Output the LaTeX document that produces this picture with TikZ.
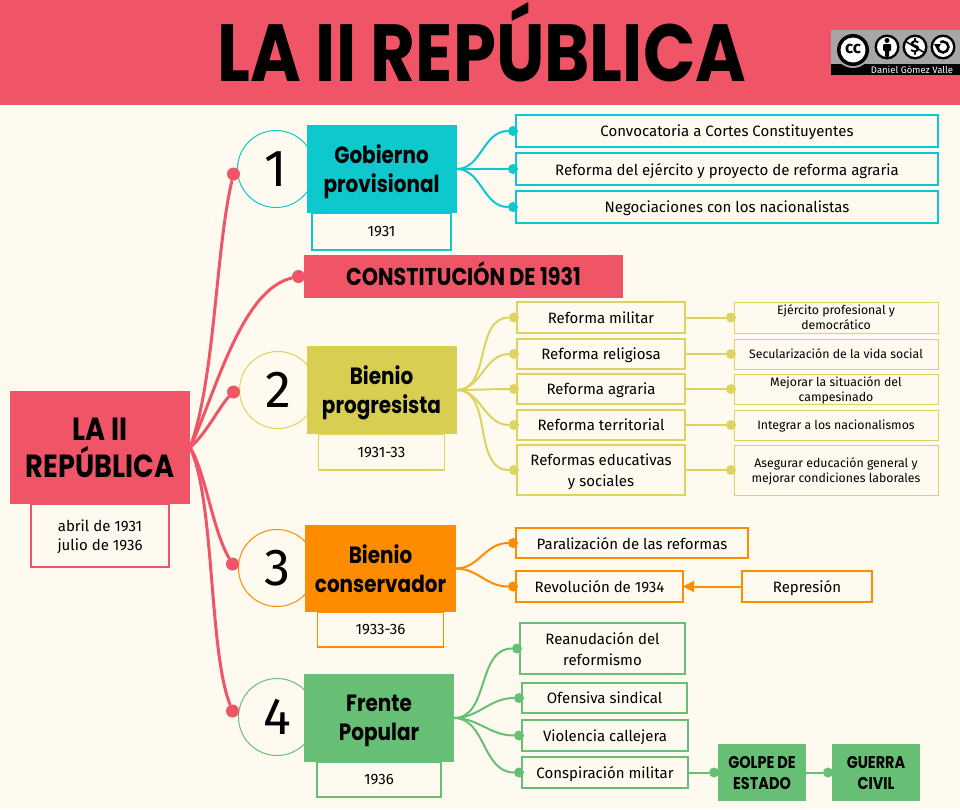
\documentclass[tikz,border=0pt]{standalone}
\usepackage{fontspec}
\setmainfont{Fira Sans}
\newfontfamily\headfont{Poppins}[FakeStretch=0.85]
\usepackage{tikz}
\usetikzlibrary{positioning, arrows.meta}
\definecolor{paper}{HTML}{FEFAF0}
\definecolor{rojo}{HTML}{EF5566}
\definecolor{turq}{HTML}{0DC8CC}
\definecolor{amar}{HTML}{D8CE52}
\definecolor{amarb}{HTML}{DDD35E}
\definecolor{nara}{HTML}{FF8C00}
\definecolor{verde}{HTML}{66BF75}
\newcommand{\fs}[2]{\fontsize{#1}{#2}\selectfont}

\begin{document}
\begin{tikzpicture}[
  x=1pt, y=-1pt,
  head/.style={fill=#1, outer sep=0pt, inner sep=0pt, minimum width=150pt, minimum height=88pt, text depth=0pt, align=center, font=\headfont\bfseries\fs{23.5}{29}, text=black},
  year/.style={draw=#1, line width=1.1pt, fill=paper, outer sep=0pt, inner sep=0pt, minimum height=36pt, text depth=0pt, align=center, font=\fs{15}{19}},
  ring/.style={draw=#1, line width=1pt, circle, minimum size=77pt, inner sep=0pt, font=\fs{52}{52}},
  item/.style={draw=#1, line width=2pt, fill=paper, outer sep=0pt, inner sep=0pt, minimum height=30pt, text depth=0pt, align=center, font=\fs{15}{21}},
  sub/.style={draw=#1, line width=1pt, fill=paper, outer sep=0pt, inner sep=0pt, minimum width=204pt, text depth=0pt, align=center, font=\fs{12.3}{15}},
  dot/.style={circle, fill=#1, inner sep=0pt, minimum size=10pt, outer sep=0pt},
  bigdot/.style={circle, fill=rojo, inner sep=0pt, minimum size=13pt, outer sep=0pt},
  link/.style={draw=#1, line width=2pt},
  trunk/.style={draw=rojo, line width=3pt}
]
\useasboundingbox (0,0) rectangle (960,809);
\fill[paper] (0,0) rectangle (960,809);
\fill[rojo] (0,0) rectangle (960,105);
\node[font=\headfont\bfseries\fs{81}{81}, inner sep=0pt] (titulo) at (482,42) {LA II REPÚBLICA};

% Logo
\fill[black!35!white] (831,30) rectangle (960,75);
\fill[black] (831,64) rectangle (960,75);
\fill[black!35!white] (853,50) circle (18);
\fill[black] (853,50) circle (16);
\fill[white] (853,50) circle (12.5);
\node[font=\bfseries\fs{17}{17}, inner sep=0pt] (cc) at (853,49) {cc};
\foreach \x in {887,915,943} {
  \fill[black] (\x,47) circle (12.5);
  \fill[white] (\x,47) circle (10);
}
\fill[black] (887,40.5) circle (2.5);
\fill[black, rounded corners=1pt] (883,44) rectangle (891,51) (885,50) rectangle (889,57);
\node[font=\bfseries\fs{17}{17}, inner sep=0pt] (dolar) at (915,47) {\$};
\draw[black, line width=1.5pt] (905,41) -- (925,53);
\draw[black, line width=2.5pt] (937.5,47) arc[start angle=180, end angle=-120, radius=5.5];
\fill[black] (934,44) -- (941,44) -- (937.5,50) -- cycle;
\node[text=white, font=\fs{9.5}{10}, inner sep=0pt] (firma) at (912,69.5) {Daniel Gómez Valle};

% Centro
\node[head=rojo, minimum width=180pt, minimum height=113pt, font=\headfont\bfseries\fs{32}{37}] (rep) at (100,447.5) {LA II\\REPÚBLICA};
\node[year=rojo, minimum width=138pt, minimum height=63pt, below=0pt of rep] (repy) {abril de 1931\\julio de 1936};

% 1
\node[ring=turq] (c1) at (276,169) {1};
\node[head=turq] (h1) at (381.5,169) {Gobierno\\provisional};
\node[year=turq, minimum width=139pt, minimum height=37pt, below=0pt of h1] (y1) {1931};
\node[item=turq, minimum width=422pt, minimum height=32pt] (a1) at (727,131) {Convocatoria a Cortes Constituyentes};
\node[item=turq, minimum width=422pt, minimum height=32pt, below=6pt of a1] (a2) {Reforma del ejército y proyecto de reforma agraria};
\node[item=turq, minimum width=422pt, minimum height=32pt, below=6pt of a2] (a3) {Negociaciones con los nacionalistas};
\foreach \i in {a1,a2,a3} {
  \node[dot=turq, left=-2pt of \i] (d\i) {};
  \draw[link=turq] (h1.east) to[out=0, in=180] (d\i);
}

% Constitucion
\node[head=rojo, minimum width=319pt, minimum height=43pt, text height=17pt, font=\headfont\bfseries\fs{24.3}{26}] (con) at (463.5,276.5) {CONSTITUCIÓN DE 1931};

% 2
\node[ring=amarb] (c2) at (278,390) {2};
\node[head=amar] (h2) at (381.5,390) {Bienio\\progresista};
\node[year=amarb, minimum width=126pt, below=0pt of h2] (y2) {1931-33};
\node[item=amarb, minimum width=168pt, minimum height=31pt] (b1) at (601,317.5) {Reforma militar};
\node[item=amarb, minimum width=168pt, below=6pt of b1] (b2) {Reforma religiosa};
\node[item=amarb, minimum width=168pt, below=5pt of b2] (b3) {Reforma agraria};
\node[item=amarb, minimum width=168pt, below=6pt of b3] (b4) {Reforma territorial};
\node[item=amarb, minimum width=168pt, minimum height=50pt, below=5pt of b4] (b5) {Reformas educativas\\y sociales};
\node[sub=amarb, minimum height=31pt, right=49pt of b1] (s1) {Ejército profesional y\\democrático};
\node[sub=amarb, minimum height=30pt, right=49pt of b2] (s2) {Secularización de la vida social};
\node[sub=amarb, minimum height=30pt, right=49pt of b3] (s3) {Mejorar la situación del\\campesinado};
\node[sub=amarb, minimum height=30pt, right=49pt of b4] (s4) {Integrar a los nacionalismos};
\node[sub=amarb, minimum height=50pt, right=49pt of b5] (s5) {Asegurar educación general y\\mejorar condiciones laborales};
\foreach \i/\j in {b1/s1,b2/s2,b3/s3,b4/s4,b5/s5} {
  \node[dot=amarb, left=-2pt of \i] (d\i) {};
  \node[dot=amarb, left=-2pt of \j] (d\j) {};
  \draw[link=amarb] (h2.east) to[out=0, in=180] (d\i);
  \draw[link=amarb] (\i) -- (d\j);
}

% 3
\node[ring=nara] (c3) at (277,568) {3};
\node[head=nara, minimum width=151pt, minimum height=87pt] (h3) at (380.5,568.5) {Bienio\\conservador};
\node[year=nara, minimum width=126pt, minimum height=35pt, below=0pt of h3] (y3) {1933-36};
\node[item=nara, minimum width=232pt] (e1) at (632,543) {Paralización de las reformas};
\node[item=nara, minimum width=167pt, minimum height=31pt] (e2) at (599.5,586.5) {Revolución de 1934};
\node[item=nara, minimum width=130pt, minimum height=31pt, right=59pt of e2] (rep2) {Represión};
\foreach \i in {e1,e2} {
  \node[dot=nara, left=-2pt of \i] (d\i) {};
  \draw[link=nara] (h3.east) to[out=0, in=180] (d\i);
}
\draw[link=nara, -{Triangle[length=11pt, width=11pt]}] (rep2) -- (e2);

% 4
\node[ring=verde] (c4) at (277,717) {4};
\node[head=verde] (h4) at (379,718) {Frente\\Popular};
\node[year=verde, minimum width=124pt, minimum height=35pt, below=0pt of h4] (y4) {1936};
\node[item=verde, minimum width=165pt, minimum height=51pt] (f1) at (602.5,648.5) {Reanudación del\\reformismo};
\node[item=verde, minimum width=165pt] (f2) at (604.5,698) {Ofensiva sindical};
\node[item=verde, minimum width=166pt, minimum height=31pt] (f3) at (605,735.5) {Violencia callejera};
\node[item=verde, minimum width=166pt, minimum height=31pt] (f4) at (605,772.5) {Conspiración militar};
\node[head=verde, minimum width=88pt, minimum height=57pt, font=\headfont\bfseries\fs{17}{21}] (golpe) at (762,772.5) {GOLPE DE\\ESTADO};
\node[head=verde, minimum width=88pt, minimum height=57pt, font=\headfont\bfseries\fs{17}{21}] (guerra) at (876,772.5) {GUERRA\\CIVIL};
\foreach \i in {f1,f2,f3,f4} {
  \node[dot=verde, left=-2pt of \i] (d\i) {};
  \draw[link=verde] (h4.east) to[out=0, in=180] (d\i);
}
\node[dot=verde, left=-1pt of golpe] (dgolpe) {};
\node[dot=verde, left=-1pt of guerra] (dguerra) {};
\draw[link=verde] (f4) -- (dgolpe);
\draw[link=verde] (golpe) -- (dguerra);

% Ramas
\node[bigdot, left=-3pt of c1, yshift=-5pt] (t1) {};
\node[bigdot, left=-1pt of con] (t2) {};
\node[bigdot, left=-1pt of c2, yshift=-2pt] (t3) {};
\node[bigdot, left=-1pt of c3, yshift=4pt] (t4) {};
\node[bigdot, left=-1pt of c4, yshift=6pt] (t5) {};
\foreach \t/\ax/\ay/\bx/\by in {t1/25/-67/-18/76, t2/25/-52/-58/13, t3/15/-12/-13/13, t4/15/23/-20/-34, t5/25/53/-24/-61}
  \draw[trunk] (rep.east) .. controls +(\ax,\ay) and +(\bx,\by) .. (\t);
\end{tikzpicture}
\end{document}
